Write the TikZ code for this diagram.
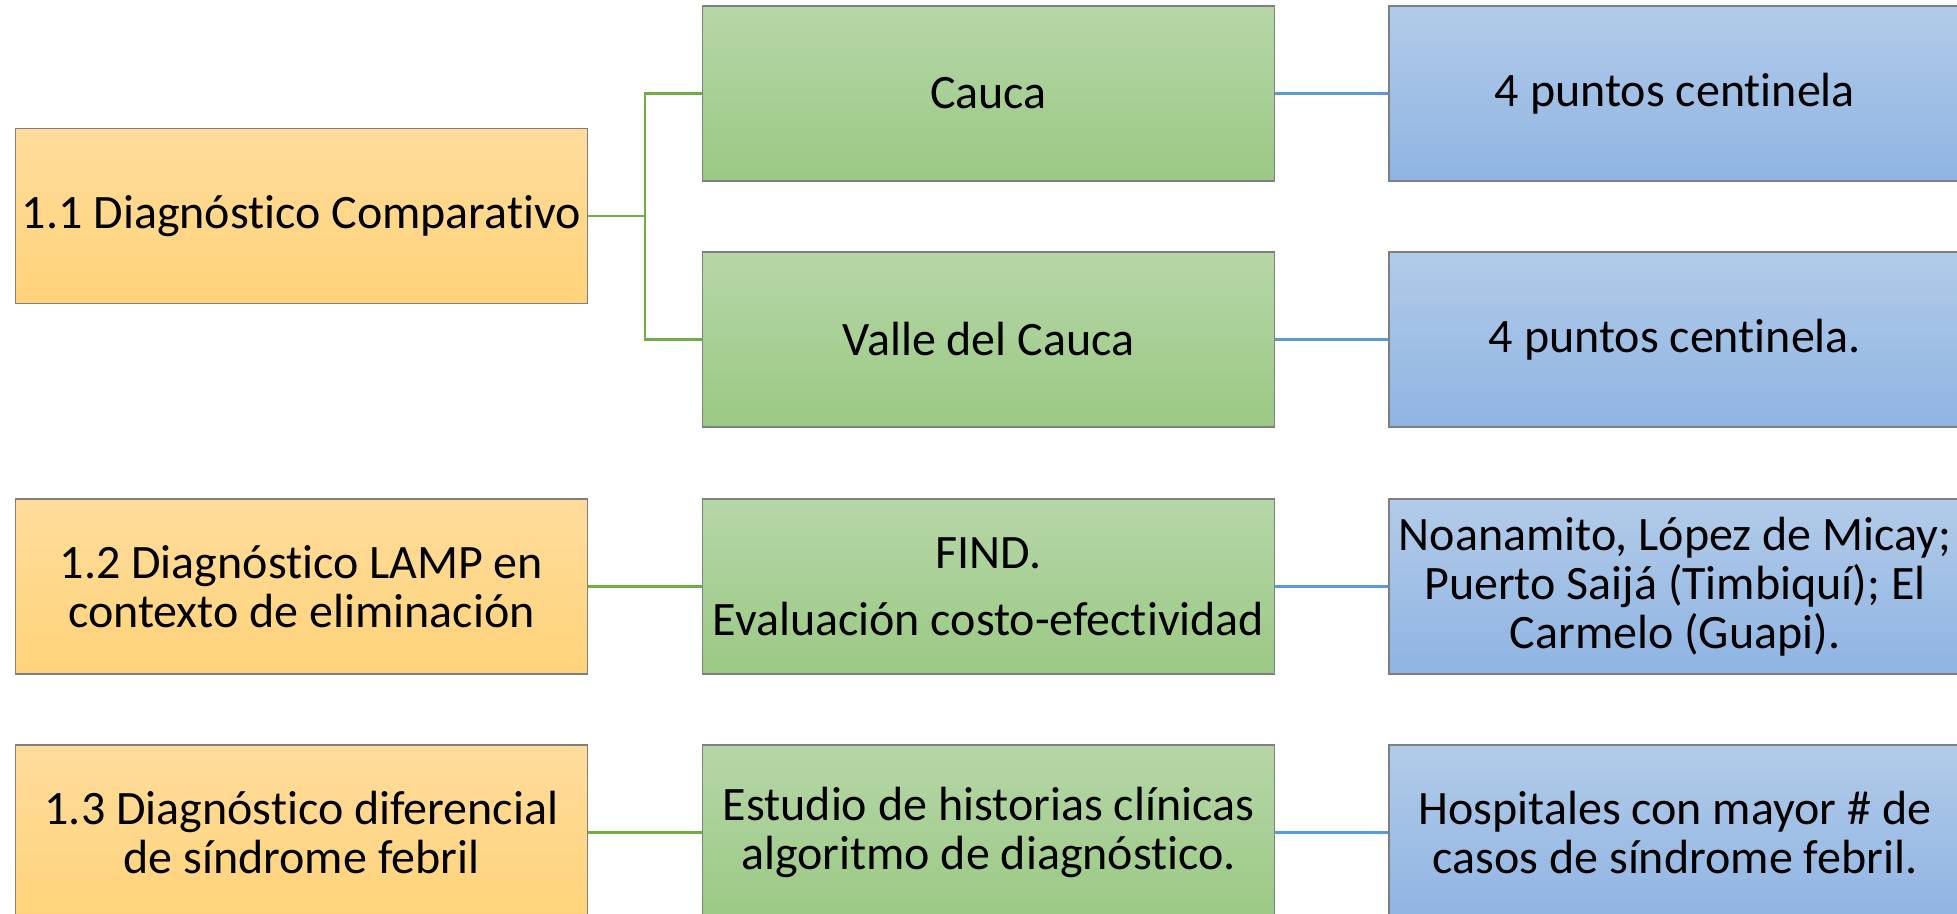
\documentclass[tikz,border=0pt]{standalone}
\usepackage{fontspec}
\setmainfont{Carlito}[Ligatures=NoCommon,RawFeature={-liga;-calt}]
\definecolor{bordergray}{HTML}{7F7F7F}
\definecolor{orgtop}{HTML}{FFDC9C}
\definecolor{orgbot}{HTML}{FFD37A}
\definecolor{grntop}{HTML}{B6D6A8}
\definecolor{grnbot}{HTML}{9BC984}
\definecolor{blutop}{HTML}{B2CBE9}
\definecolor{blubot}{HTML}{8FB4E2}
\definecolor{gline}{HTML}{70AD47}
\definecolor{bline}{HTML}{5B9BD5}
\begin{document}
\begin{tikzpicture}[x=0.5pt,y=-0.5pt,
  box/.style={draw=bordergray, line width=0.6pt, rectangle, minimum width=286pt, minimum height=87.5pt, inner sep=0pt, align=center, font=\fontsize{24}{24.5}\selectfont},
  obox/.style={box, top color=orgtop, bottom color=orgbot},
  gbox/.style={box, top color=grntop, bottom color=grnbot},
  bbox/.style={box, top color=blutop, bottom color=blubot},
  gconn/.style={draw=gline, line width=1.4pt},
  bconn/.style={draw=bline, line width=1.4pt}]
\useasboundingbox (0,0) rectangle (1957,914);
\begin{scope}
\clip (0,0) rectangle (1957,914);
% row nodes
\node[obox] (o1) at (301.5,216) {1.1 Diagnóstico Comparativo};
\node[gbox] (g1) at (988.5,93.5) {Cauca};
\node[gbox] (g2) at (988.5,339.5) {Valle del Cauca};
\node[bbox] (b1) at (1675,93.5) {4 puntos centinela};
\node[bbox] (b2) at (1675,339.5) {4 puntos centinela.};
\node[obox] (o2) at (301.5,586.5) {1.2 Diagnóstico LAMP en\\contexto de eliminación};
\node[gbox] (g3) at (988.5,586.5) {FIND.\\[9pt]Evaluación costo-efectividad};
\node[bbox] (b3) at (1675,586.5) {Noanamito, López de Micay;\\Puerto Saijá (Timbiquí); El\\Carmelo (Guapi).};
\node[obox] (o3) at (301.5,832.5) {1.3 Diagnóstico diferencial\\de síndrome febril};
\node[gbox] (g4) at (988.5,832.5) {Estudio de historias clínicas\\algoritmo de diagnóstico.};
\node[bbox] (b4) at (1675,832.5) {Hospitales con mayor \# de\\casos de síndrome febril.};
% connectors
\coordinate (br) at (645,216);
\draw[gconn] (o1.east) -- (br) |- (g1.west);
\draw[gconn] (br) |- (g2.west);
\draw[gconn] (o2.east) -- (g3.west);
\draw[gconn] (o3.east) -- (g4.west);
\draw[bconn] (g1.east) -- (b1.west);
\draw[bconn] (g2.east) -- (b2.west);
\draw[bconn] (g3.east) -- (b3.west);
\draw[bconn] (g4.east) -- (b4.west);
\end{scope}
\end{tikzpicture}
\end{document}
